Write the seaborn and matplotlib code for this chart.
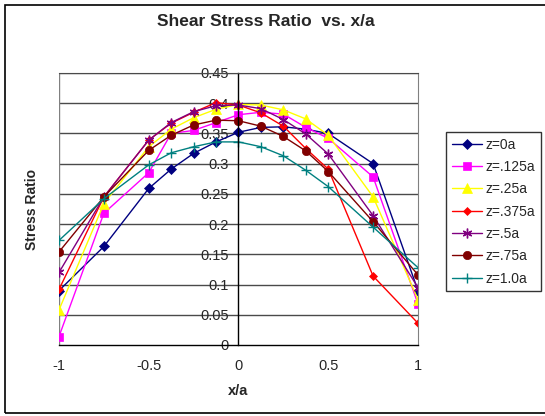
import matplotlib
matplotlib.use("Agg")
import matplotlib.pyplot as plt
import seaborn as sns
import pandas as pd
from matplotlib.patches import Rectangle

x_vals = [-1, -0.75, -0.5, -0.375, -0.25, -0.125, 0, 0.125, 0.25, 0.375, 0.5, 0.75, 1]
series_names = ["z=0a", "z=.125a", "z=.25a", "z=.375a", "z=.5a", "z=.75a", "z=1.0a"]
z0 = [0.090, 0.163, 0.259, 0.291, 0.317, 0.336, 0.352, 0.360, 0.361, 0.357, 0.350, 0.300, 0.090]
z125 = [0.014, 0.218, 0.285, 0.350, 0.355, 0.368, 0.381, 0.385, 0.382, 0.360, 0.342, 0.278, 0.068]
z25 = [0.058, 0.234, 0.328, 0.357, 0.376, 0.390, 0.398, 0.397, 0.389, 0.374, 0.347, 0.245, 0.075]
z375 = [0.092, 0.245, 0.339, 0.367, 0.385, 0.401, 0.397, 0.384, 0.362, 0.325, 0.291, 0.114, 0.036]
z5 = [0.120, 0.245, 0.339, 0.368, 0.386, 0.396, 0.397, 0.391, 0.373, 0.349, 0.316, 0.214, 0.095]
z75 = [0.154, 0.245, 0.322, 0.347, 0.364, 0.372, 0.371, 0.362, 0.345, 0.321, 0.287, 0.204, 0.116]
z10 = [0.173, 0.242, 0.298, 0.318, 0.328, 0.336, 0.336, 0.328, 0.313, 0.289, 0.262, 0.195, 0.128]
all_series = [z0, z125, z25, z375, z5, z75, z10]

colors = ["#000080", "#FF00FF", "#FFFF00", "#FF0000", "#800080", "#800000", "#008080"]
marker_list = ["D", "s", "^", "D", (6, 2, 0), "o", "+"]
marker_sizes = [5, 6, 7, 4.5, 7, 6, 7]

rows = []
for name, vals in zip(series_names, all_series):
    for xv, yv in zip(x_vals, vals):
        rows.append({"x": xv, "y": yv, "series": name})
df = pd.DataFrame(rows)

sns.set_style("white")
plt.rcParams["font.family"] = ["Liberation Sans", "DejaVu Sans"]

fig = plt.figure(figsize=(5.45, 4.16), dpi=100)
ax = fig.add_axes([59 / 545, 1 - 345 / 416, (418 - 59) / 545, (345 - 73) / 416])

for i, name in enumerate(series_names):
    sub = df[df["series"] == name]
    sns.lineplot(data=sub, x="x", y="y", ax=ax, color=colors[i], marker=marker_list[i],
                 markersize=marker_sizes[i], markeredgecolor=colors[i],
                 markerfacecolor=colors[i], mew=1.0 if i in (4, 6) else 0.5,
                 linewidth=1.0, label=name, sort=False, estimator=None)

ax.set_xlim(-1, 1)
ax.set_ylim(0, 0.45)
ax.set_xticks([-1, -0.5, 0, 0.5, 1])
ax.set_xticklabels(["-1", "-0.5", "0", "0.5", "1"])
yt = [0, 0.05, 0.1, 0.15, 0.2, 0.25, 0.3, 0.35, 0.4, 0.45]
ax.set_yticks(yt)
ax.set_yticklabels(["0", "0.05", "0.1", "0.15", "0.2", "0.25", "0.3", "0.35", "0.4", "0.45"])
for v in yt[1:]:
    ax.axhline(v, color="#4a4a4a", lw=1.0, zorder=0)
ax.axvline(-1, color="#808080", lw=1.0, zorder=0)

ax.spines["left"].set_position(("data", 0))
ax.spines["left"].set_color("black")
ax.spines["left"].set_linewidth(1.0)
ax.spines["bottom"].set_color("black")
ax.spines["bottom"].set_linewidth(1.0)
ax.spines["right"].set_color("#808080")
ax.spines["top"].set_color("#4a4a4a")
ax.tick_params(axis="both", direction="out", length=5, width=1, color="black",
               labelsize=10.5, pad=2)
ax.tick_params(axis="x", pad=5)

ax.set_xlabel("x/a", fontsize=10.5, fontweight="bold", labelpad=8)
ax.set_ylabel("")
fig.text(32 / 545, 1 - 209 / 416, "Stress Ratio", rotation=90, fontsize=10,
         fontweight="bold", ha="center", va="center")
fig.text(266 / 545, 1 - 22 / 416, "Shear Stress Ratio  vs. x/a", fontsize=12.5,
         fontweight="bold", ha="center", va="center")

leg = ax.legend(loc="upper left", bbox_to_anchor=(446 / 545, 1 - 132 / 416),
                bbox_transform=fig.transFigure, frameon=True, fontsize=10,
                handlelength=2.2, borderpad=0.4, labelspacing=0.6, handletextpad=0.25,
                fancybox=False, edgecolor="black", borderaxespad=0)
leg.get_frame().set_linewidth(1.0)

fig.patches.append(Rectangle((5 / 545, 3 / 416), 560 / 545, 408 / 416, transform=fig.transFigure,
                             fill=False, edgecolor="black", lw=1.2))

fig.savefig("out.png", dpi=100)
